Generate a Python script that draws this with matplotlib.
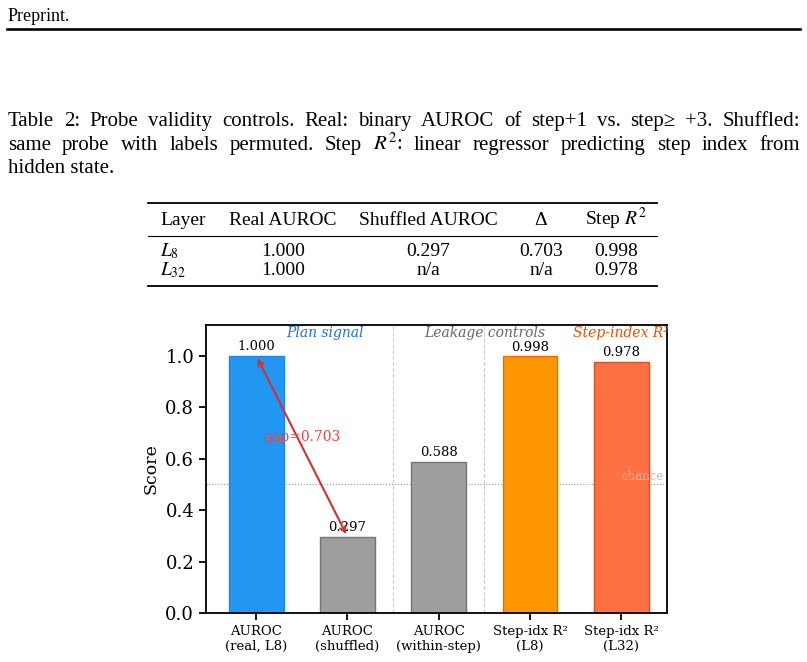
import matplotlib
matplotlib.use('Agg')
import matplotlib.pyplot as plt
from matplotlib.lines import Line2D

# table data
layers = ['$L_{8}$', '$L_{32}$']
real_auroc = [1.000, 1.000]
shuffled_auroc = [0.297, None]
delta = [0.703, None]
step_r2 = [0.998, 0.978]

# chart data
bar_labels = ['AUROC\n(real, L8)', 'AUROC\n(shuffled)', 'AUROC\n(within-step)',
              'Step-idx R²\n(L8)', 'Step-idx R²\n(L32)']
bar_values = [1.000, 0.297, 0.588, 0.998, 0.978]
bar_colors = ['#2196F3', '#9E9E9E', '#9E9E9E', '#FF9800', '#FF7043']
edge_colors = ['#1E88E5', '#757575', '#757575', '#EF6C00', '#E64A19']
gap = bar_values[0] - bar_values[1]

plt.rcParams['font.family'] = 'DejaVu Serif'
plt.rcParams['mathtext.fontset'] = 'stix'

W, H = 807, 662
fig = plt.figure(figsize=(W / 100, H / 100), dpi=100)
PAGE = 'Liberation Serif'


def fx(x):
    return x / W


def fy(y):
    return 1 - y / H


def rule(x0, x1, y, lw):
    fig.add_artist(Line2D([fx(x0), fx(x1)], [fy(y), fy(y)], color='black',
                          lw=lw, transform=fig.transFigure))


def justified(line, x0, x1, y, size):
    words = line.split(' ')
    texts = [fig.text(0, fy(y), w, family=PAGE, fontsize=size, va='baseline') for w in words]
    r = fig.canvas.get_renderer()
    widths = [t.get_window_extent(r).width for t in texts]
    space = (x1 - x0 - sum(widths)) / (len(words) - 1)
    x = x0
    for t, w in zip(texts, widths):
        t.set_x(fx(x))
        x += w + space


# page header
fig.text(fx(8), fy(21), 'Preprint.', family=PAGE, fontsize=13, va='baseline')
rule(7, 800, 28.5, 1.9)

# caption
justified('Table 2: Probe validity controls. Real: binary AUROC of step+1 vs. step≥ +3. Shuffled:',
          8, 800, 126, 15)
justified('same probe with labels permuted. Step $R^{2}$: linear regressor predicting step index from',
          8, 800, 150, 15)
fig.text(fx(8), fy(173), 'hidden state.', family=PAGE, fontsize=15, va='baseline')

# table
rule(148, 657, 202.5, 1.3)
rule(148, 657, 236, 0.8)
rule(148, 657, 286, 1.3)
col_x = [283, 428, 541, 616]
headers = ['Real AUROC', 'Shuffled AUROC', 'Δ', 'Step $R^{2}$']
fig.text(fx(160), fy(225), 'Layer', family=PAGE, fontsize=14, va='baseline')
for cx, h in zip(col_x, headers):
    fig.text(fx(cx), fy(225), h, family=PAGE, fontsize=14, va='baseline', ha='center')


def fmt(v):
    return 'n/a' if v is None else f'{v:.3f}'


row_y = [256, 275]
for i, ry in enumerate(row_y):
    fig.text(fx(160), fy(ry), layers[i], family=PAGE, fontsize=14, va='baseline')
    vals = [real_auroc[i], shuffled_auroc[i], delta[i], step_r2[i]]
    for cx, v in zip(col_x, vals):
        fig.text(fx(cx), fy(ry), fmt(v), family=PAGE, fontsize=14, va='baseline', ha='center')

# chart
ax = fig.add_axes([fx(206), fy(613), (667 - 206) / W, (613 - 325) / H])
xs = list(range(len(bar_values)))
ax.bar(xs, bar_values, width=0.6, color=bar_colors, edgecolor=edge_colors, linewidth=1)
for x, v in zip(xs, bar_values):
    ax.annotate(f'{v:.3f}', (x, v), xytext=(0, 2), textcoords='offset points',
                ha='center', va='bottom', fontsize=9.5)

ax.axhline(0.5, color='#999999', ls=':', lw=0.8, zorder=0)
ax.text(4.46, 0.505, 'chance', ha='right', va='bottom', fontsize=8.5, color='#BBBBBB')
for sx in [1.5, 2.5]:
    ax.axvline(sx, color='#CCCCCC', ls='--', lw=0.8, zorder=0)

ax.text(0.75, 1.09, 'Plan signal', ha='center', va='center', fontsize=10,
        style='italic', color='#1976D2')
ax.text(2.5, 1.09, 'Leakage controls', ha='center', va='center', fontsize=10,
        style='italic', color='#666666')
ax.text(4.0, 1.09, 'Step-index R²', ha='center', va='center', fontsize=10,
        style='italic', color='#E65100')

ax.annotate('', xy=(0, bar_values[0]), xytext=(1, bar_values[1]),
            arrowprops=dict(arrowstyle='<->', color='#D32F2F', lw=1.5))
ax.text(0.5, 0.685, f'gap={gap:.3f}', ha='center', va='center', fontsize=10, color='#E04848')

ax.set_xlim(-0.55, 4.5)
ax.set_ylim(0, 1.12)
ax.set_xticks(xs)
ax.set_xticklabels(bar_labels, fontsize=9.5)
ax.set_yticks([0, 0.2, 0.4, 0.6, 0.8, 1.0])
ax.tick_params(axis='y', labelsize=13, length=5, width=1.3)
ax.tick_params(axis='x', length=5, width=1.3)
ax.set_ylabel('Score', fontsize=12.5)
for s in ax.spines.values():
    s.set_linewidth(1.3)

fig.savefig('out.png', dpi=100)
